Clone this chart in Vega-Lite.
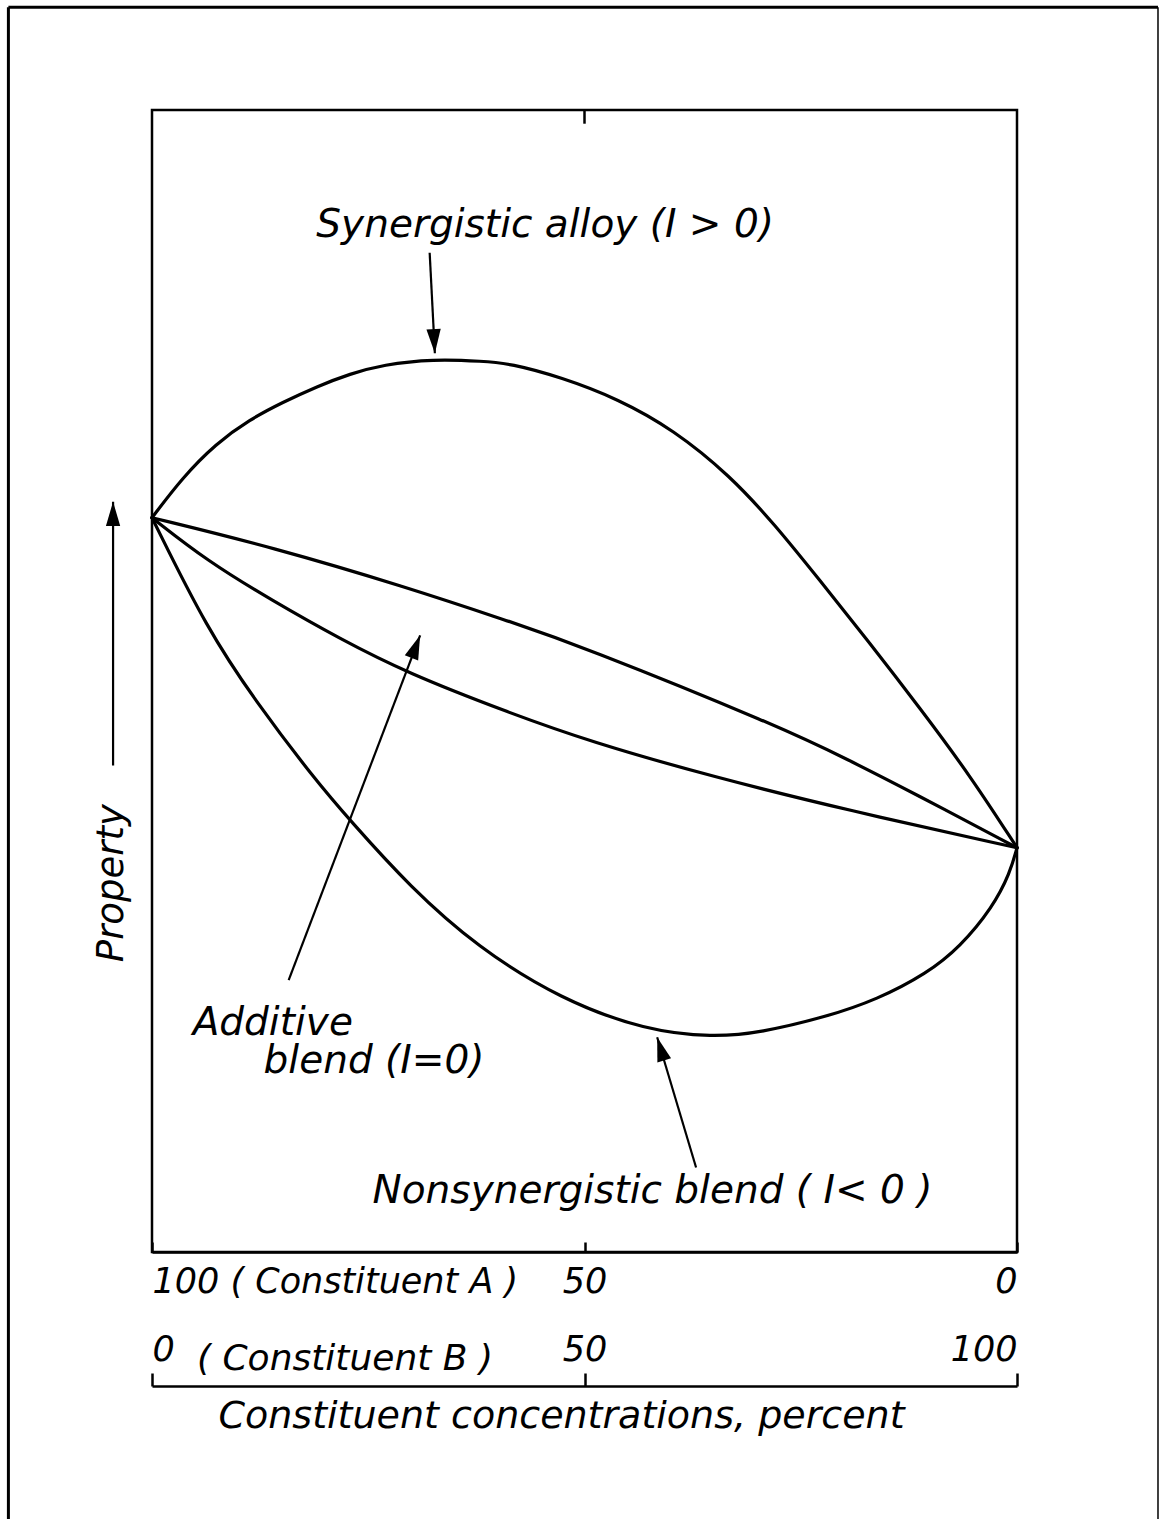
{
  "$schema": "https://vega.github.io/schema/vega-lite/v6.json",
  "width": 865,
  "height": 1142,
  "autosize": {"type": "none"},
  "padding": {"left": 152, "top": 110, "right": 143, "bottom": 267},
  "background": "white",
  "config": {"view": {"stroke": "black", "strokeWidth": 2.5}, "font": "DejaVu Sans"},
  "datasets": {
    "curves": [
      {"series": "Synergistic alloy", "b": 0, "property": 64.3},
      {"series": "Synergistic alloy", "b": 3.5, "property": 67.8},
      {"series": "Synergistic alloy", "b": 7.4, "property": 70.8},
      {"series": "Synergistic alloy", "b": 11.3, "property": 72.9},
      {"series": "Synergistic alloy", "b": 15.1, "property": 74.4},
      {"series": "Synergistic alloy", "b": 19.1, "property": 75.8},
      {"series": "Synergistic alloy", "b": 22.9, "property": 76.9},
      {"series": "Synergistic alloy", "b": 26.7, "property": 77.7},
      {"series": "Synergistic alloy", "b": 32.5, "property": 78.2},
      {"series": "Synergistic alloy", "b": 38.3, "property": 78.0},
      {"series": "Synergistic alloy", "b": 41.4, "property": 77.8},
      {"series": "Synergistic alloy", "b": 47.3, "property": 76.6},
      {"series": "Synergistic alloy", "b": 53.9, "property": 74.7},
      {"series": "Synergistic alloy", "b": 60.3, "property": 72.0},
      {"series": "Synergistic alloy", "b": 66.8, "property": 68.0},
      {"series": "Synergistic alloy", "b": 72.0, "property": 63.7},
      {"series": "Synergistic alloy", "b": 77.0, "property": 59.0},
      {"series": "Synergistic alloy", "b": 83.0, "property": 53.3},
      {"series": "Synergistic alloy", "b": 88.8, "property": 47.6},
      {"series": "Synergistic alloy", "b": 94.6, "property": 41.7},
      {"series": "Synergistic alloy", "b": 100, "property": 35.4},
      {"series": "Additive blend", "b": 0, "property": 64.3},
      {"series": "Additive blend", "b": 14.0, "property": 61.7},
      {"series": "Additive blend", "b": 29.5, "property": 58.2},
      {"series": "Additive blend", "b": 41.0, "property": 55.3},
      {"series": "Additive blend", "b": 49.5, "property": 53.1},
      {"series": "Additive blend", "b": 72.6, "property": 46.0},
      {"series": "Additive blend", "b": 80.5, "property": 43.1},
      {"series": "Additive blend", "b": 88.0, "property": 40.2},
      {"series": "Additive blend", "b": 100, "property": 35.4},
      {"series": "Intermediate blend", "b": 0, "property": 64.3},
      {"series": "Intermediate blend", "b": 6.4, "property": 60.5},
      {"series": "Intermediate blend", "b": 14.0, "property": 57.0},
      {"series": "Intermediate blend", "b": 21.7, "property": 53.7},
      {"series": "Intermediate blend", "b": 29.5, "property": 50.7},
      {"series": "Intermediate blend", "b": 41.0, "property": 47.3},
      {"series": "Intermediate blend", "b": 50.6, "property": 44.7},
      {"series": "Intermediate blend", "b": 64.9, "property": 41.6},
      {"series": "Intermediate blend", "b": 80.3, "property": 38.7},
      {"series": "Intermediate blend", "b": 100, "property": 35.4},
      {"series": "Nonsynergistic blend", "b": 0, "property": 64.3},
      {"series": "Nonsynergistic blend", "b": 6.4, "property": 54.5},
      {"series": "Nonsynergistic blend", "b": 12.1, "property": 48.1},
      {"series": "Nonsynergistic blend", "b": 18.6, "property": 41.6},
      {"series": "Nonsynergistic blend", "b": 23.0, "property": 37.7},
      {"series": "Nonsynergistic blend", "b": 29.8, "property": 32.0},
      {"series": "Nonsynergistic blend", "b": 37.6, "property": 26.7},
      {"series": "Nonsynergistic blend", "b": 47.3, "property": 22.1},
      {"series": "Nonsynergistic blend", "b": 57.1, "property": 19.4},
      {"series": "Nonsynergistic blend", "b": 64.9, "property": 18.8},
      {"series": "Nonsynergistic blend", "b": 70.3, "property": 19.2},
      {"series": "Nonsynergistic blend", "b": 78.0, "property": 20.6},
      {"series": "Nonsynergistic blend", "b": 83.8, "property": 22.1},
      {"series": "Nonsynergistic blend", "b": 89.6, "property": 24.4},
      {"series": "Nonsynergistic blend", "b": 93.4, "property": 26.7},
      {"series": "Nonsynergistic blend", "b": 97.2, "property": 30.2},
      {"series": "Nonsynergistic blend", "b": 99.2, "property": 33.2},
      {"series": "Nonsynergistic blend", "b": 100, "property": 35.4}
    ],
    "arrows": [
      {"arrow": "synergistic", "x0": 32.1, "y0": 87.5, "x1": 32.7, "y1": 78.7},
      {"arrow": "additive", "x0": 15.8, "y0": 23.8, "x1": 31.0, "y1": 54.0},
      {"arrow": "nonsynergistic", "x0": 62.9, "y0": 7.4, "x1": 58.4, "y1": 18.8},
      {"arrow": "property", "x0": -4.5, "y0": 42.6, "x1": -4.5, "y1": 65.7}
    ]
  },
  "layer": [
    {
      "data": {"name": "curves"},
      "mark": {"type": "line", "interpolate": "basis", "stroke": "black", "strokeWidth": 3.2, "strokeCap": "round"},
      "encoding": {
        "x": {
          "field": "b", "type": "quantitative",
          "scale": {"domain": [0, 100], "nice": false, "zero": false},
          "axis": {
            "orient": "bottom", "values": [0, 50, 100], "grid": false,
            "domain": true, "domainColor": "black", "domainWidth": 2.5,
            "ticks": true, "tickSize": -10, "tickColor": "black", "tickWidth": 2.5,
            "labelExpr": "datum.value == 0 ? '100 ( Constituent A )' : datum.value == 50 ? '50' : '0'",
            "labelFlush": true, "labelLimit": 0, "labelFont": "DejaVu Sans", "labelFontStyle": "italic",
            "labelFontSize": 35, "labelColor": "black", "labelBaseline": "alphabetic",
            "labelPadding": 50, "title": null
          }
        },
        "y": {
          "field": "property", "type": "quantitative",
          "scale": {"domain": [0, 100], "nice": false, "zero": false},
          "axis": null
        },
        "detail": {"field": "series"}
      }
    },
    {
      "data": {"name": "arrows"},
      "mark": {"type": "rule", "color": "black", "strokeWidth": 2.2},
      "encoding": {
        "x": {
          "field": "x0", "type": "quantitative",
          "scale": {"domain": [0, 100], "nice": false, "zero": false},
          "axis": {
            "orient": "bottom", "offset": 134, "values": [0, 50, 100], "grid": false,
            "domain": true, "domainColor": "black", "domainWidth": 2.5,
            "ticks": true, "tickSize": -13, "tickColor": "black", "tickWidth": 2.5,
            "labelFlush": true, "labelLimit": 0, "labelFont": "DejaVu Sans", "labelFontStyle": "italic",
            "labelFontSize": 35, "labelColor": "black", "labelBaseline": "alphabetic",
            "labelPadding": -13,
            "title": "Constituent concentrations, percent", "titleFont": "DejaVu Sans",
            "titleFontStyle": "italic", "titleFontSize": 38, "titleFontWeight": "normal",
            "titleColor": "black", "titleX": 409, "titleY": 41, "titleAlign": "center",
            "titleBaseline": "alphabetic"
          }
        },
        "y": {"field": "y0", "type": "quantitative", "scale": {"domain": [0, 100]}, "axis": null},
        "x2": {"field": "x1"},
        "y2": {"field": "y1"}
      }
    },
    {
      "data": {"values": [{}]},
      "mark": {"type": "point", "shape": "M0,0 L0.65,2.2 L-0.65,2.2 Z", "filled": true, "fill": "black", "strokeWidth": 0, "opacity": 1, "size": 484, "angle": 177},
      "encoding": {
        "x": {"datum": 32.7, "type": "quantitative", "scale": {"domain": [0, 100]}, "axis": null},
        "y": {"datum": 78.7, "type": "quantitative", "scale": {"domain": [0, 100]}, "axis": null}
      }
    },
    {
      "data": {"values": [{}]},
      "mark": {"type": "point", "shape": "M0,0 L0.65,2.2 L-0.65,2.2 Z", "filled": true, "fill": "black", "strokeWidth": 0, "opacity": 1, "size": 484, "angle": 21},
      "encoding": {
        "x": {"datum": 31.0, "type": "quantitative", "scale": {"domain": [0, 100]}, "axis": null},
        "y": {"datum": 54.0, "type": "quantitative", "scale": {"domain": [0, 100]}, "axis": null}
      }
    },
    {
      "data": {"values": [{}]},
      "mark": {"type": "point", "shape": "M0,0 L0.65,2.2 L-0.65,2.2 Z", "filled": true, "fill": "black", "strokeWidth": 0, "opacity": 1, "size": 484, "angle": -17},
      "encoding": {
        "x": {"datum": 58.4, "type": "quantitative", "scale": {"domain": [0, 100]}, "axis": null},
        "y": {"datum": 18.8, "type": "quantitative", "scale": {"domain": [0, 100]}, "axis": null}
      }
    },
    {
      "data": {"values": [{}]},
      "mark": {"type": "point", "shape": "M0,0 L0.65,2.2 L-0.65,2.2 Z", "filled": true, "fill": "black", "strokeWidth": 0, "opacity": 1, "size": 484, "angle": 0},
      "encoding": {
        "x": {"datum": -4.5, "type": "quantitative", "scale": {"domain": [0, 100]}, "axis": null},
        "y": {"datum": 65.7, "type": "quantitative", "scale": {"domain": [0, 100]}, "axis": null}
      }
    },
    {
      "data": {"values": [{}]},
      "mark": {"type": "rule", "color": "black", "strokeWidth": 2.5},
      "encoding": {
        "x": {"datum": 50, "type": "quantitative", "scale": {"domain": [0, 100]}, "axis": null},
        "y": {"datum": 100, "type": "quantitative", "scale": {"domain": [0, 100]}, "axis": null},
        "y2": {"datum": 98.8}
      }
    },
    {
      "data": {"values": [{}]},
      "mark": {"type": "rule", "color": "black", "strokeWidth": 3},
      "encoding": {
        "x": {"datum": -16.6, "type": "quantitative", "scale": {"domain": [0, 100]}, "axis": null},
        "y": {"datum": 109.0, "type": "quantitative", "scale": {"domain": [0, 100]}, "axis": null},
        "y2": {"datum": -24}
      }
    },
    {
      "data": {"values": [{}]},
      "mark": {"type": "rule", "color": "black", "strokeWidth": 3},
      "encoding": {
        "x": {"datum": -16.6, "type": "quantitative", "scale": {"domain": [0, 100]}, "axis": null},
        "x2": {"datum": 116.3},
        "y": {"datum": 109.0, "type": "quantitative", "scale": {"domain": [0, 100]}, "axis": null}
      }
    },
    {
      "data": {"values": [{}]},
      "mark": {"type": "rule", "color": "black", "strokeWidth": 1.5},
      "encoding": {
        "x": {"datum": 116.3, "type": "quantitative", "scale": {"domain": [0, 100]}, "axis": null},
        "y": {"datum": 109.0, "type": "quantitative", "scale": {"domain": [0, 100]}, "axis": null},
        "y2": {"datum": -24}
      }
    },
    {
      "data": {"values": [{}]},
      "mark": {"type": "text", "text": "Property", "font": "DejaVu Sans", "fontStyle": "italic", "fontSize": 37, "align": "center", "baseline": "alphabetic", "angle": 270, "color": "black"},
      "encoding": {
        "x": {"datum": -3.4, "type": "quantitative", "scale": {"domain": [0, 100]}, "axis": null},
        "y": {"datum": 32.3, "type": "quantitative", "scale": {"domain": [0, 100]}, "axis": null}
      }
    },
    {
      "data": {"values": [{}]},
      "mark": {"type": "text", "text": "Synergistic alloy (I > 0)", "font": "DejaVu Sans", "fontStyle": "italic", "fontSize": 39, "align": "left", "baseline": "alphabetic", "color": "black"},
      "encoding": {
        "x": {"datum": 19.0, "type": "quantitative", "scale": {"domain": [0, 100]}, "axis": null},
        "y": {"datum": 88.9, "type": "quantitative", "scale": {"domain": [0, 100]}, "axis": null}
      }
    },
    {
      "data": {"values": [{}]},
      "mark": {"type": "text", "text": "Additive", "font": "DejaVu Sans", "fontStyle": "italic", "fontSize": 39, "align": "left", "baseline": "alphabetic", "color": "black"},
      "encoding": {
        "x": {"datum": 4.7, "type": "quantitative", "scale": {"domain": [0, 100]}, "axis": null},
        "y": {"datum": 19.0, "type": "quantitative", "scale": {"domain": [0, 100]}, "axis": null}
      }
    },
    {
      "data": {"values": [{}]},
      "mark": {"type": "text", "text": "blend (I=0)", "font": "DejaVu Sans", "fontStyle": "italic", "fontSize": 39, "align": "left", "baseline": "alphabetic", "color": "black"},
      "encoding": {
        "x": {"datum": 12.9, "type": "quantitative", "scale": {"domain": [0, 100]}, "axis": null},
        "y": {"datum": 15.7, "type": "quantitative", "scale": {"domain": [0, 100]}, "axis": null}
      }
    },
    {
      "data": {"values": [{}]},
      "mark": {"type": "text", "text": "Nonsynergistic blend ( I< 0 )", "font": "DejaVu Sans", "fontStyle": "italic", "fontSize": 39, "align": "left", "baseline": "alphabetic", "color": "black"},
      "encoding": {
        "x": {"datum": 25.5, "type": "quantitative", "scale": {"domain": [0, 100]}, "axis": null},
        "y": {"datum": 4.3, "type": "quantitative", "scale": {"domain": [0, 100]}, "axis": null}
      }
    },
    {
      "data": {"values": [{}]},
      "mark": {"type": "text", "text": "( Constituent B )", "font": "DejaVu Sans", "fontStyle": "italic", "fontSize": 36, "align": "left", "baseline": "alphabetic", "color": "black"},
      "encoding": {
        "x": {"datum": 5.2, "type": "quantitative", "scale": {"domain": [0, 100]}, "axis": null},
        "y": {"datum": -10.3, "type": "quantitative", "scale": {"domain": [0, 100]}, "axis": null}
      }
    }
  ],
  "resolve": {"axis": {"x": "independent"}}
}
